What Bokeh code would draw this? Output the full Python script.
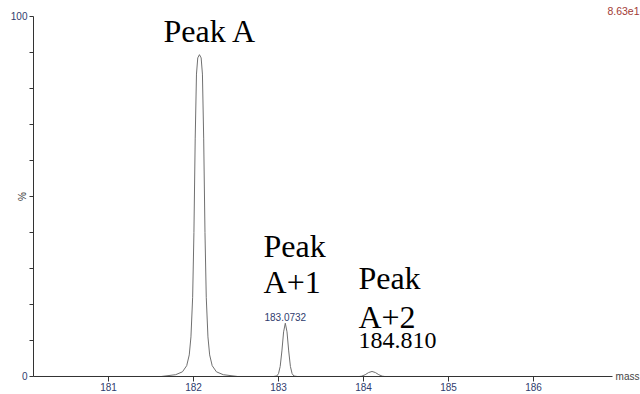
import math
from bokeh.plotting import figure
from bokeh.models import FixedTicker, Label, Range1d
from bokeh.embed import file_html
from bokeh.resources import INLINE

# ---- spectrum profile (mass, relative intensity %) ----
mass = [180.12,
        181.62, 181.79, 181.87, 181.92, 181.95, 181.97, 181.99, 182.005, 182.02, 182.035,
        182.05, 182.07, 182.09, 182.105, 182.12, 182.135, 182.15, 182.17, 182.19, 182.22,
        182.27, 182.35, 182.52,
        182.94, 182.98, 183.00, 183.02, 183.04, 183.06, 183.08, 183.10, 183.12, 183.14,
        183.16, 183.18, 183.22,
        183.95, 183.98, 184.02, 184.06, 184.10, 184.14, 184.18, 184.22, 184.25,
        184.80]
intensity = [0.0,
             0.0, 0.5, 1.3, 3.0, 6.0, 11.0, 22.0, 40.0, 66.0, 84.0,
             88.5, 89.4, 88.5, 84.0, 66.0, 40.0, 22.0, 11.0, 6.0, 3.0,
             1.3, 0.5, 0.0,
             0.0, 0.15, 0.8, 2.8, 7.1, 12.4, 14.8, 12.4, 7.1, 2.8,
             0.8, 0.15, 0.0,
             0.0, 0.1, 0.5, 1.1, 1.4, 1.1, 0.5, 0.1, 0.0,
             0.0]

x_ticks = [181, 182, 183, 184, 185, 186]
y_ticks = [0, 10, 20, 30, 40, 50, 60, 70, 80, 90, 100]
y_tick_text = {0: "0", 100: "100"}

# big peak titles
title_text = ["Peak A", "Peak", "A+1", "Peak", "A+2"]
title_x = [181.647, 182.824, 182.824, 183.94, 183.94]
title_y = [92.8, 33.3, 23.3, 24.4, 13.6]

peak_tag_text = "183.0732"
peak_tag_x = 183.08
peak_tag_y = 14.8
serif_tag_text = "184.810"
serif_tag_x = 183.94
serif_tag_y = 7.8
scale_text = "8.63e1"
x_label = "mass"
y_label = "%"

# visible window of the view and the drawn axes
x_start, x_end = 179.7294, 187.2588
y_start, y_end = -5.0, 104.444
x_axis_start, x_axis_end = 180.1176, 186.93

SANS = "Liberation Sans"
SERIF = "Liberation Serif"
TICK_COLOR = "#2f3c6e"

p = figure(width=640, height=394, output_backend="svg", toolbar_location=None,
           x_range=Range1d(x_start, x_end), y_range=Range1d(y_start, y_end),
           min_border=0)
p.outline_line_color = None
p.xgrid.visible = False
p.ygrid.visible = False
p.background_fill_color = "white"
p.border_fill_color = "white"

p.line(mass, intensity, line_color="#707070", line_width=1)

xa = p.xaxis[0]
xa.fixed_location = 0
xa.ticker = FixedTicker(ticks=x_ticks)
xa.bounds = (x_axis_start, x_axis_end)
xa.major_tick_out = 5
xa.major_tick_in = 0
xa.minor_tick_out = 0
xa.minor_tick_in = 0
xa.major_label_standoff = 2
xa.axis_line_color = "#333333"
xa.major_tick_line_color = "#333333"
xa.major_label_text_font = SANS
xa.major_label_text_font_size = "10px"
xa.major_label_text_color = TICK_COLOR

ya = p.yaxis[0]
ya.fixed_location = x_axis_start
ya.ticker = FixedTicker(ticks=y_ticks)
ya.bounds = (0, 100)
ya.major_label_overrides = {t: y_tick_text.get(t, "") for t in y_ticks}
ya.major_tick_out = 4
ya.major_tick_in = 0
ya.minor_tick_out = 0
ya.minor_tick_in = 0
ya.major_label_standoff = 2
ya.axis_line_color = "#333333"
ya.major_tick_line_color = "#333333"
ya.major_label_text_font = SANS
ya.major_label_text_font_size = "10px"
ya.major_label_text_color = TICK_COLOR

for t, x, y in zip(title_text, title_x, title_y):
    p.add_layout(Label(x=x, y=y, y_offset=11, text=t, text_font=SERIF,
                       text_font_size="32px", text_color="black",
                       text_align="left", text_baseline="alphabetic"))

p.add_layout(Label(x=peak_tag_x, y=peak_tag_y, y_offset=2, text=peak_tag_text,
                   text_font=SANS, text_font_size="10px", text_color=TICK_COLOR,
                   text_align="center", text_baseline="bottom"))
p.add_layout(Label(x=serif_tag_x, y=serif_tag_y, y_offset=8, text=serif_tag_text,
                   text_font=SERIF, text_font_size="24px", text_color="black",
                   text_align="left", text_baseline="alphabetic"))
p.add_layout(Label(x=x_end, y=100, x_offset=-1, y_offset=5, text=scale_text,
                   text_font=SANS, text_font_size="10.5px", text_color="#a23b35",
                   text_align="right", text_baseline="alphabetic"))
p.add_layout(Label(x=x_axis_end, y=0, x_offset=3, text=x_label,
                   text_font=SANS, text_font_size="10px", text_color="#444444",
                   text_align="left", text_baseline="middle"))
p.add_layout(Label(x=x_axis_start, y=50, x_offset=-11, text=y_label, angle=math.pi / 2,
                   text_font=SANS, text_font_size="10px", text_color="#333333",
                   text_align="center", text_baseline="middle"))

open("out.html", "w").write(file_html(p, INLINE))
